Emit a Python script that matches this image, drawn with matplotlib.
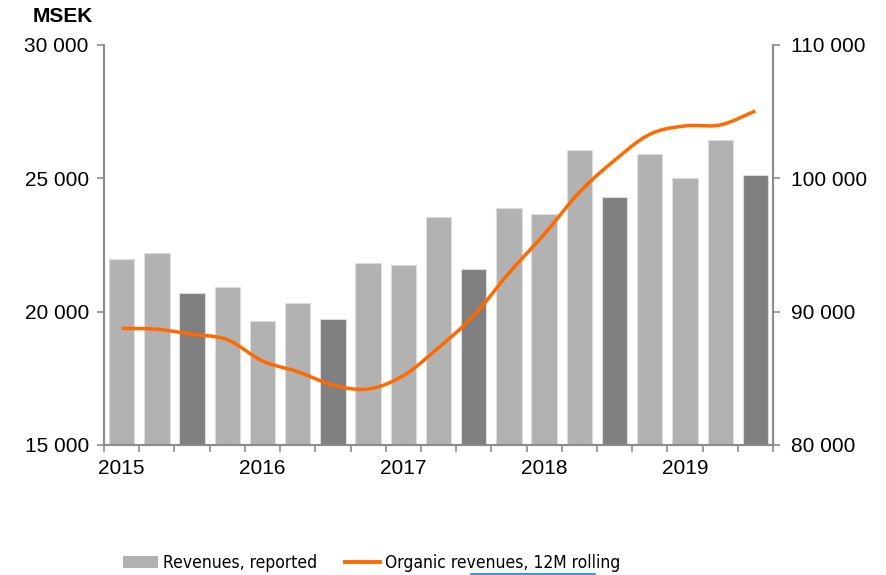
import numpy as np
import matplotlib
matplotlib.use("Agg")
from matplotlib import pyplot as plt
from matplotlib import font_manager
from matplotlib.lines import Line2D
from matplotlib.patches import Patch

plt.rcParams['font.family'] = ['Liberation Sans', 'DejaVu Sans']

# quarterly data, 2015 Q1 .. 2019 Q3
quarters = ['2015', '', '', '', '2016', '', '', '', '2017', '', '', '',
            '2018', '', '', '', '2019', '', '']
revenues = [21960, 22210, 20710, 20910, 19650, 20340, 19740, 21810, 21750, 23550,
            21600, 23900, 23670, 26060, 24300, 25920, 25020, 26440, 25120]
organic_12m = [88750, 88680, 88300, 87900, 86300, 85500, 84500, 84200, 85200, 87300,
               89700, 92900, 95800, 98950, 101350, 103300, 103930, 104000, 105050]
dark_quarters = [2, 6, 10, 14, 18]

light = '#b2b2b2'
dark = '#808080'
axis_grey = '#8c8c8c'
orange = '#ff6a00'


def smooth(x, y, n=20):
    # catmull-rom style smoothing like the spreadsheet "smoothed line"
    x = np.asarray(x, float)
    y = np.asarray(y, float)
    px = np.concatenate([[2 * x[0] - x[1]], x, [2 * x[-1] - x[-2]]])
    py = np.concatenate([[2 * y[0] - y[1]], y, [2 * y[-1] - y[-2]]])
    xs, ys = [], []
    t = np.linspace(0, 1, n, endpoint=False)
    for i in range(1, len(px) - 2):
        for p, out in ((px, xs), (py, ys)):
            p0, p1, p2, p3 = p[i - 1], p[i], p[i + 1], p[i + 2]
            out.extend(0.5 * (2 * p1 + (-p0 + p2) * t
                              + (2 * p0 - 5 * p1 + 4 * p2 - p3) * t ** 2
                              + (-p0 + 3 * p1 - 3 * p2 + p3) * t ** 3))
    xs.append(x[-1])
    ys.append(y[-1])
    return np.array(xs), np.array(ys)


# the legend is set in a narrow face; use one if the machine has it
installed = {f.name for f in font_manager.fontManager.ttflist}
legend_font = {'family': ['Liberation Sans', 'DejaVu Sans'], 'size': 11}
for name in ['Liberation Sans Narrow', 'Arial Narrow']:
    if name in installed:
        legend_font = {'family': [name, 'DejaVu Sans'], 'size': 14}
        break
else:
    cond = [f for f in font_manager.fontManager.ttflist
            if f.name == 'DejaVu Sans' and f.stretch in ('condensed', 'semi-condensed', 600, 700, 500)]
    if cond:
        legend_font = {'family': ['DejaVu Sans'], 'stretch': 'condensed', 'size': 12.5}

fig = plt.figure(figsize=(8.87, 5.75), dpi=100)
ax = fig.add_axes([0.1173, 0.2261, 0.7542, 0.6957])
ax2 = ax.twinx()

x = np.arange(len(revenues))
colors = [dark if i in dark_quarters else light for i in x]
ax.bar(x, revenues, width=0.72, color=colors, edgecolor='#dcdcdc', linewidth=0.8, zorder=2)

sx, sy = smooth(x, organic_12m)
ax2.plot(sx, sy, color=orange, linewidth=2.5, solid_capstyle='butt', zorder=3)

ax.set_xlim(-0.5, len(revenues) - 0.5)
ax.set_ylim(15000, 30000)
ax2.set_ylim(80000, 110000)
ax.set_yticks([15000, 20000, 25000, 30000])
ax2.set_yticks([80000, 90000, 100000, 110000])
fmt = lambda v, p: f"{int(v):,}".replace(',', ' ')
ax.yaxis.set_major_formatter(matplotlib.ticker.FuncFormatter(fmt))
ax2.yaxis.set_major_formatter(matplotlib.ticker.FuncFormatter(fmt))

# tick marks between quarters, year labels under Q1
ax.set_xticks(np.arange(-0.5, len(revenues)), minor=False)
ax.set_xticklabels([])
ax.set_xticks(x, minor=True)
ax.set_xticklabels(quarters, minor=True)
ax.tick_params(axis='x', which='minor', length=0, pad=10, labelsize=15)
ax.tick_params(axis='x', which='major', length=5, width=1.2, color=axis_grey)

for a in (ax, ax2):
    for s in a.spines.values():
        s.set_color(axis_grey)
        s.set_linewidth(1.5)
    a.spines['top'].set_visible(False)
ax.tick_params(axis='y', length=5, width=1.2, color=axis_grey, labelsize=15, pad=6)
ax2.tick_params(axis='y', length=5, width=1.2, color=axis_grey, labelsize=15, pad=8)

fig.text(0.071, 0.972, 'MSEK', fontsize=15, fontweight='bold', ha='center', va='center')

handles = [Patch(facecolor=light, edgecolor='none'),
           Line2D([], [], color=orange, linewidth=2.8)]
leg = fig.legend(handles, ['Revenues, reported', 'Organic revenues, 12M rolling'],
                 loc='center left', bbox_to_anchor=(0.131, 0.021), ncol=2, frameon=False,
                 prop=legend_font, handlelength=2.0, handleheight=0.75,
                 handletextpad=0.3, columnspacing=1.6, borderaxespad=0)

# stray blue underline under the legend text
fig.add_artist(Line2D([471 / 887, 595 / 887], [1 - 574 / 575] * 2, color='#1e7ff0',
                      linewidth=1.2, transform=fig.transFigure))

fig.savefig('out.png', dpi=100)
